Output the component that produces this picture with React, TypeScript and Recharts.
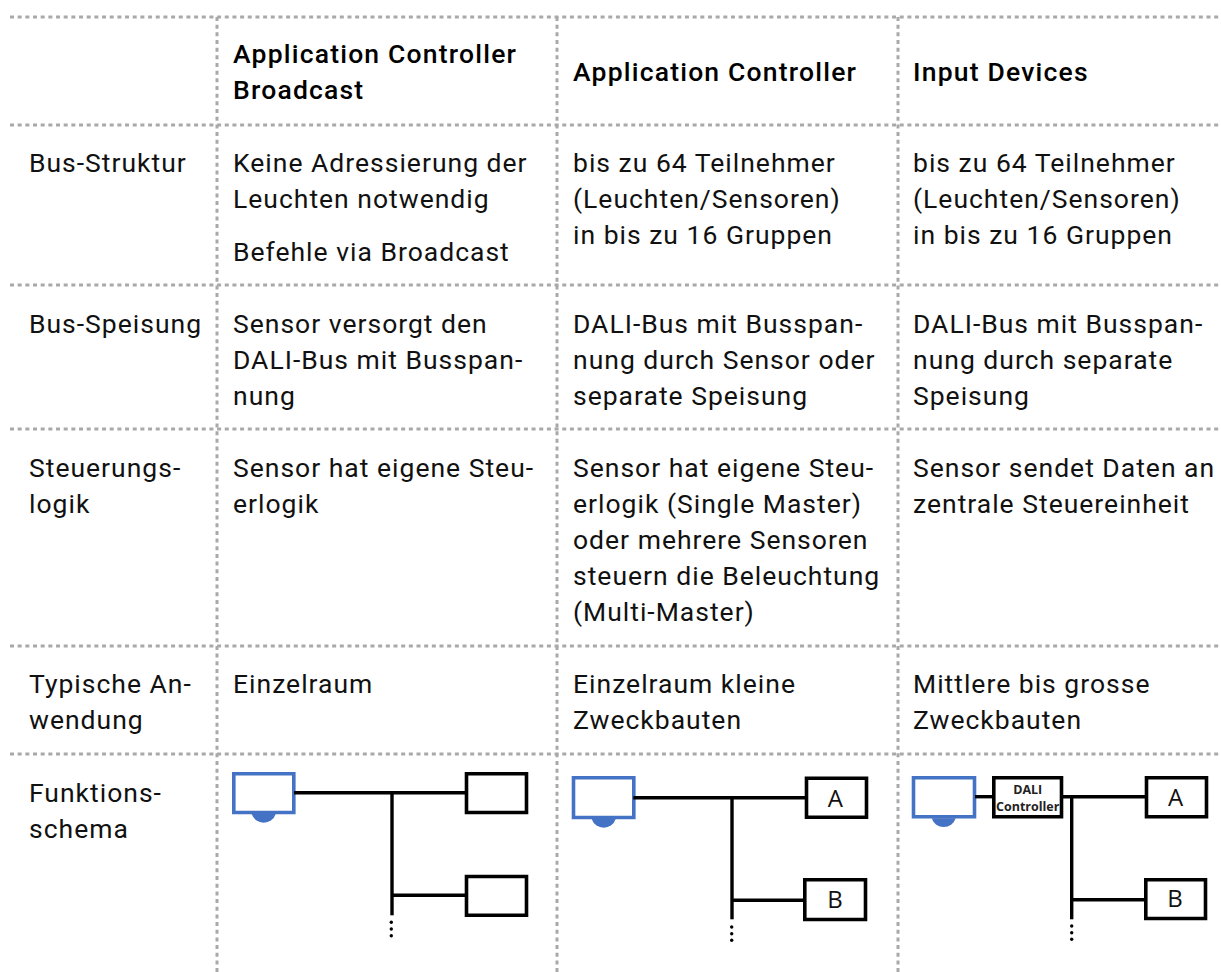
import { ScatterChart, Scatter, XAxis, YAxis, ReferenceLine, ReferenceArea, ReferenceDot } from "recharts";

const WIDTH = 1221;
const HEIGHT = 972;

// grid of the table, in picture pixels (the hidden axes run 1:1 over the chart)
const rowLines = [17, 125, 285, 429, 646, 754];
const columnLines = [217, 557, 898];
const columnText = [29, 233, 573, 913];
const rowBaselines = [172, 333, 477, 693, 802];
const HEADER_CENTER = 81;
const LINE_GAP = 36;
const PARAGRAPH_GAP = 53;

const headers = [
  ["Application Controller", "Broadcast"],
  ["Application Controller"],
  ["Input Devices"],
];
const rowLabels = [
  ["Bus-Struktur"],
  ["Bus-Speisung"],
  ["Steuerungs-", "logik"],
  ["Typische An-", "wendung"],
  ["Funktions-", "schema"],
];
// each cell is a list of paragraphs
const broadcastCells = [
  [["Keine Adressierung der", "Leuchten notwendig"], ["Befehle via Broadcast"]],
  [["Sensor versorgt den", "DALI-Bus mit Busspan-", "nung"]],
  [["Sensor hat eigene Steu-", "erlogik"]],
  [["Einzelraum"]],
];
const controllerCells = [
  [["bis zu 64 Teilnehmer", "(Leuchten/Sensoren)", "in bis zu 16 Gruppen"]],
  [["DALI-Bus mit Busspan-", "nung durch Sensor oder", "separate Speisung"]],
  [["Sensor hat eigene Steu-", "erlogik (Single Master)", "oder mehrere Sensoren", "steuern die Beleuchtung", "(Multi-Master)"]],
  [["Einzelraum kleine", "Zweckbauten"]],
];
const inputCells = [
  [["bis zu 64 Teilnehmer", "(Leuchten/Sensoren)", "in bis zu 16 Gruppen"]],
  [["DALI-Bus mit Busspan-", "nung durch separate", "Speisung"]],
  [["Sensor sendet Daten an", "zentrale Steuereinheit"]],
  [["Mittlere bis grosse", "Zweckbauten"]],
];

// schema parts: [x1, x2, y1, y2]
const sensorBoxes = [
  [233.8, 293.8, 773.8, 812.5],
  [573.5, 633.8, 777.8, 817.5],
  [913.5, 974.5, 777.8, 816.8],
];
const sensorDomes = [
  [263.7, 814],
  [603.7, 819],
  [943.7, 818.3],
];
const deviceBoxes = [
  [466.5, 526.5, 773.8, 812.5],
  [466.5, 526.5, 876.5, 915.2],
  [806.5, 866.5, 778.2, 817.2],
  [804.8, 865.5, 879.8, 919.5],
  [993.8, 1061.5, 777.8, 816.8],
  [1146.5, 1206.5, 777.8, 816.8],
  [1145.8, 1205.5, 879.8, 918.5],
];
const wires = [
  [294, 466, 792.7, 792.7],
  [392, 392, 792.7, 915.3],
  [392, 466, 895.3, 895.3],
  [633.3, 806, 797.7, 797.7],
  [732, 732, 797.7, 919.3],
  [732, 804, 900.3, 900.3],
  [975, 993, 796.7, 796.7],
  [1063, 1146, 796.7, 796.7],
  [1071.7, 1071.7, 796.7, 919.3],
  [1071.7, 1145, 899.7, 899.7],
];
const ellipsisDots = [
  [391.3, 922.3], [391.3, 929], [391.3, 935.7],
  [731.7, 927], [731.7, 933.7], [731.7, 940.3],
  [1071.7, 926], [1071.7, 932.7], [1071.7, 939.3],
];
const boxLetters = [
  { x: 835.3, y: 806.7, text: "A" },
  { x: 835, y: 907.7, text: "B" },
  { x: 1175.7, y: 805.7, text: "A" },
  { x: 1175, y: 906.7, text: "B" },
];
const controllerLabel = [
  { x: 1027.7, y: 794, text: "DALI" },
  { x: 1027.7, y: 811.3, text: "Controller" },
];

type TextPoint = { x: number; y: number; text: string };

const headerPoints: TextPoint[] = headers.flatMap((lines, i) =>
  lines.map((text, j) => ({
    x: columnText[i + 1],
    y: HEADER_CENTER + (j - (lines.length - 1) / 2) * LINE_GAP,
    text,
  })),
);

const labelPoints: TextPoint[] = rowLabels.flatMap((lines, i) =>
  lines.map((text, j) => ({ x: columnText[0], y: rowBaselines[i] + j * LINE_GAP, text })),
);

function cellPoints(cells: string[][][], column: number): TextPoint[] {
  const points: TextPoint[] = [];
  cells.forEach((paragraphs, row) => {
    let y = rowBaselines[row];
    paragraphs.forEach((lines) => {
      lines.forEach((text, j) => {
        points.push({ x: columnText[column], y: y + j * LINE_GAP, text });
      });
      y += (lines.length - 1) * LINE_GAP + PARAGRAPH_GAP;
    });
  });
  return points;
}

const bodyPoints = [
  ...labelPoints,
  ...cellPoints(broadcastCells, 1),
  ...cellPoints(controllerCells, 2),
  ...cellPoints(inputCells, 3),
];

const FONT = "Roboto, sans-serif";

function BodyText(props: any) {
  return (
    <text x={props.cx} y={props.cy} fontFamily={FONT} fontSize={26.5} letterSpacing={1} fill="#111">
      {props.payload.text}
    </text>
  );
}

function HeaderText(props: any) {
  return (
    <text x={props.cx} y={props.cy} fontFamily={FONT} fontSize={26.5} fontWeight={500} letterSpacing={1.2} fill="#000">
      {props.payload.text}
    </text>
  );
}

function LetterText(props: any) {
  return (
    <text x={props.cx} y={props.cy} textAnchor="middle" fontFamily="Open Sans, sans-serif" fontSize={24} fill="#111">
      {props.payload.text}
    </text>
  );
}

function ControllerText(props: any) {
  return (
    <text x={props.cx} y={props.cy} textAnchor="middle" fontFamily="Open Sans, sans-serif" fontSize={12.5} fontWeight={700} fill="#222">
      {props.payload.text}
    </text>
  );
}

function Dome(props: any) {
  const { cx, cy } = props;
  return <path d={`M ${cx - 12} ${cy} A 12.6 12.6 0 0 0 ${cx + 12} ${cy} Z`} fill="#4472C4" />;
}

export default function App() {
  const dotted = { stroke: "#a9a9a9", strokeWidth: 3, strokeDasharray: "4 3.67" };
  return (
    <div style={{ position: "absolute", left: 0, top: 0, background: "#fff" }}>
      <ScatterChart width={WIDTH} height={HEIGHT} margin={{ top: 0, right: 0, bottom: 0, left: 0 }}>
        <XAxis type="number" dataKey="x" domain={[0, WIDTH]} hide />
        <YAxis type="number" dataKey="y" domain={[0, HEIGHT]} reversed hide />

        {rowLines.map((y) => (
          <ReferenceLine key={y} segment={[{ x: 10, y }, { x: WIDTH, y }]} {...dotted} />
        ))}
        {columnLines.map((x) => (
          <ReferenceLine key={x} segment={[{ x, y: rowLines[0] }, { x, y: HEIGHT }]} {...dotted} />
        ))}

        {wires.map(([x1, x2, y1, y2], i) => (
          <ReferenceLine key={i} segment={[{ x: x1, y: y1 }, { x: x2, y: y2 }]} stroke="#000" strokeWidth={3.4} />
        ))}
        {deviceBoxes.map(([x1, x2, y1, y2], i) => (
          <ReferenceArea key={i} x1={x1} x2={x2} y1={y1} y2={y2} fill="#fff" fillOpacity={1} stroke="#000" strokeWidth={3.6} />
        ))}
        {sensorBoxes.map(([x1, x2, y1, y2], i) => (
          <ReferenceArea key={i} x1={x1} x2={x2} y1={y1} y2={y2} fill="#fff" fillOpacity={1} stroke="#4472C4" strokeWidth={3.6} />
        ))}
        {sensorDomes.map(([x, y], i) => (
          <ReferenceDot key={i} x={x} y={y} shape={Dome} />
        ))}
        {ellipsisDots.map(([x, y], i) => (
          <ReferenceDot key={i} x={x} y={y} r={1.7} fill="#000" stroke="none" />
        ))}

        <Scatter data={bodyPoints} shape={BodyText} isAnimationActive={false} />
        <Scatter data={headerPoints} shape={HeaderText} isAnimationActive={false} />
        <Scatter data={boxLetters} shape={LetterText} isAnimationActive={false} />
        <Scatter data={controllerLabel} shape={ControllerText} isAnimationActive={false} />
      </ScatterChart>
    </div>
  );
}
